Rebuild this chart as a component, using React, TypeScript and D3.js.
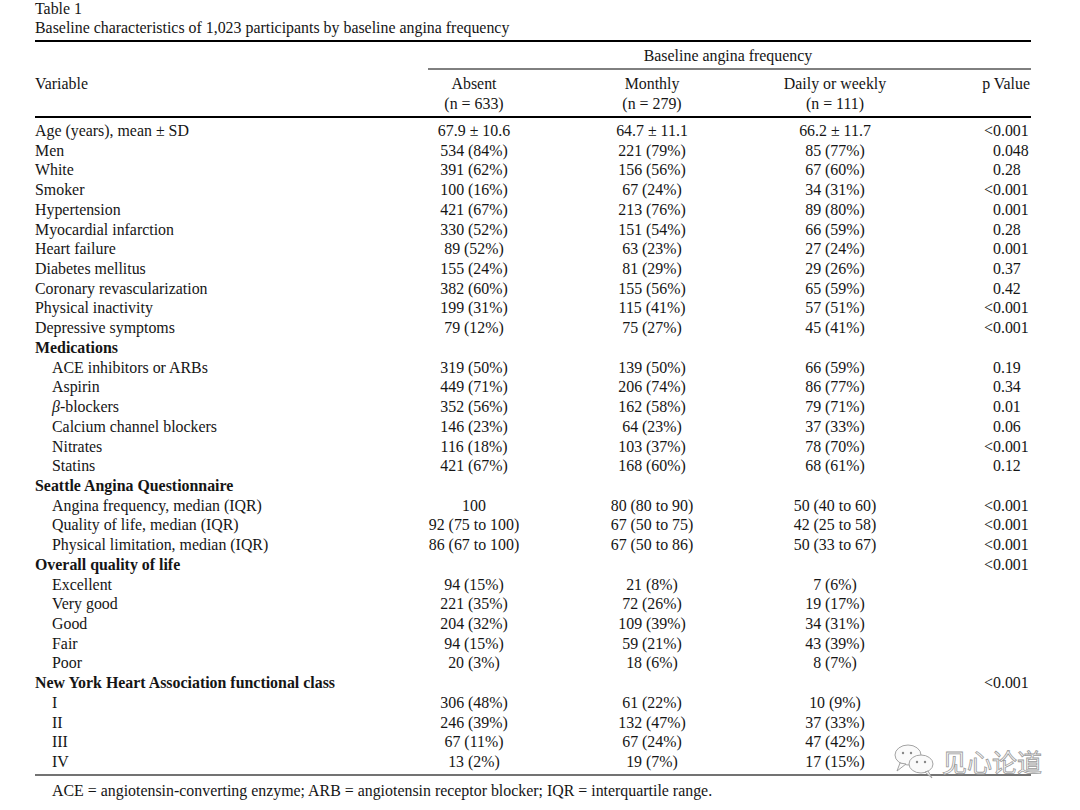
import React from "react";
import * as d3 from "d3";

const TITLE = "Table 1";
const SUBTITLE = "Baseline characteristics of 1,023 participants by baseline angina frequency";
const SPAN_HEADER = "Baseline angina frequency";
const GROUPS = ["Absent", "Monthly", "Daily or weekly"];
const GROUP_N = ["(n = 633)", "(n = 279)", "(n = 111)"];
const FOOTNOTE = "ACE = angiotensin-converting enzyme; ARB = angiotensin receptor blocker; IQR = interquartile range.";

// kind: "v" top-level variable, "s" bold section, "i" indented item
const kinds = ["v","v","v","v","v","v","v","v","v","v","v","s","i","i","i","i","i","i","s","i","i","i","s","i","i","i","i","i","s","i","i","i","i"];
const labels = [
  "Age (years), mean ± SD","Men","White","Smoker","Hypertension","Myocardial infarction","Heart failure",
  "Diabetes mellitus","Coronary revascularization","Physical inactivity","Depressive symptoms",
  "Medications","ACE inhibitors or ARBs","Aspirin","β-blockers","Calcium channel blockers","Nitrates","Statins",
  "Seattle Angina Questionnaire","Angina frequency, median (IQR)","Quality of life, median (IQR)","Physical limitation, median (IQR)",
  "Overall quality of life","Excellent","Very good","Good","Fair","Poor",
  "New York Heart Association functional class","I","II","III","IV"
];
const absent = [
  "67.9 ± 10.6","534 (84%)","391 (62%)","100 (16%)","421 (67%)","330 (52%)","89 (52%)","155 (24%)","382 (60%)","199 (31%)","79 (12%)",
  "","319 (50%)","449 (71%)","352 (56%)","146 (23%)","116 (18%)","421 (67%)",
  "","100","92 (75 to 100)","86 (67 to 100)",
  "","94 (15%)","221 (35%)","204 (32%)","94 (15%)","20 (3%)",
  "","306 (48%)","246 (39%)","67 (11%)","13 (2%)"
];
const monthly = [
  "64.7 ± 11.1","221 (79%)","156 (56%)","67 (24%)","213 (76%)","151 (54%)","63 (23%)","81 (29%)","155 (56%)","115 (41%)","75 (27%)",
  "","139 (50%)","206 (74%)","162 (58%)","64 (23%)","103 (37%)","168 (60%)",
  "","80 (80 to 90)","67 (50 to 75)","67 (50 to 86)",
  "","21 (8%)","72 (26%)","109 (39%)","59 (21%)","18 (6%)",
  "","61 (22%)","132 (47%)","67 (24%)","19 (7%)"
];
const daily = [
  "66.2 ± 11.7","85 (77%)","67 (60%)","34 (31%)","89 (80%)","66 (59%)","27 (24%)","29 (26%)","65 (59%)","57 (51%)","45 (41%)",
  "","66 (59%)","86 (77%)","79 (71%)","37 (33%)","78 (70%)","68 (61%)",
  "","50 (40 to 60)","42 (25 to 58)","50 (33 to 67)",
  "","7 (6%)","19 (17%)","34 (31%)","43 (39%)","8 (7%)",
  "","10 (9%)","37 (33%)","47 (42%)","17 (15%)"
];
const pvals = [
  "<0.001","0.048","0.28","<0.001","0.001","0.28","0.001","0.37","0.42","<0.001","<0.001",
  "","0.19","0.34","0.01","0.06","<0.001","0.12",
  "","<0.001","<0.001","<0.001",
  "<0.001","","","","","",
  "<0.001","","","",""
];

const FONT = "'Liberation Serif', 'Times New Roman', serif";
const INK = "#151515";

export default function App() {
  const W = 1080, H = 810;
  const y = d3.scalePoint<number>().domain(d3.range(labels.length)).range([131, 762]);
  const colX = d3.scaleOrdinal<string, number>().domain(["a", "m", "d"]).range([474, 652, 835]);
  const cols: [string, string[]][] = [["a", absent], ["m", monthly], ["d", daily]];
  const left = 35, indentX = 52, right = 1031, pX = 993;
  const base = 5;

  return (
    <svg width={W} height={H} style={{ position: "absolute", left: 0, top: 0, background: "#fff" }}
      fontFamily={FONT} fontSize={15.9} fill={INK}>
      <rect width={W} height={H} fill="#fff" />
      <text x={left} y={14}>{TITLE}</text>
      <text x={left} y={33}>{SUBTITLE}</text>
      <line x1={left} x2={right} y1={41} y2={41} stroke="#000" strokeWidth={2} />
      <text x={728} y={61} textAnchor="middle">{SPAN_HEADER}</text>
      <line x1={428} x2={right} y1={69} y2={69} stroke="#000" strokeWidth={1} />
      <text x={left} y={89}>Variable</text>
      {GROUPS.map((g, i) => (
        <g key={g}>
          <text x={colX(["a", "m", "d"][i])} y={89} textAnchor="middle">{g}</text>
          <text x={colX(["a", "m", "d"][i])} y={109} textAnchor="middle">{GROUP_N[i]}</text>
        </g>
      ))}
      <text x={1030} y={89} textAnchor="end">p Value</text>
      <line x1={left} x2={right} y1={117} y2={117} stroke="#000" strokeWidth={2} />

      {labels.map((lab, i) => {
        const yy = (y(i) as number) + base;
        const k = kinds[i];
        const p = pvals[i];
        return (
          <g key={i}>
            <text x={k === "i" ? indentX : left} y={yy} fontWeight={k === "s" ? "bold" : "normal"}>
              {lab.startsWith("β") ? (<><tspan fontStyle="italic">β</tspan>{lab.slice(1)}</>) : lab}
            </text>
            {cols.map(([c, arr]) => arr[i] ? (
              <text key={c} x={colX(c)} y={yy} textAnchor="middle">{arr[i]}</text>
            ) : null)}
            {p ? (
              <>
                {p.startsWith("<") ? <text x={pX} y={yy} textAnchor="end">{"<"}</text> : null}
                <text x={pX} y={yy}>{p.replace("<", "")}</text>
              </>
            ) : null}
          </g>
        );
      })}

      <line x1={left} x2={right} y1={775} y2={775} stroke="#444" strokeWidth={1.5} />
      <text x={indentX} y={796}>{FOOTNOTE}</text>

      {/* watermark */}
      <g fill="#fafafa" stroke="#9a9a9a" strokeWidth={0.9}>
        <ellipse cx={908} cy={755} rx={13} ry={10} />
        <path d="M900,763 L897,771 L906,764 Z" />
        <ellipse cx={921} cy={764} rx={12} ry={9} />
        <path d="M928,771 L932,778 L925,772 Z" />
        <circle cx={903} cy={753} r={1.2} fill="#888" stroke="none" />
        <circle cx={911} cy={753} r={1.2} fill="#888" stroke="none" />
        <circle cx={917} cy={762} r={1.2} fill="#888" stroke="none" />
        <circle cx={925} cy={762} r={1.2} fill="#888" stroke="none" />
        <text x={942} y={772} fontFamily="'Noto Sans CJK SC', sans-serif" fontSize={25} strokeWidth={0.8}>见心论道</text>
      </g>
    </svg>
  );
}
